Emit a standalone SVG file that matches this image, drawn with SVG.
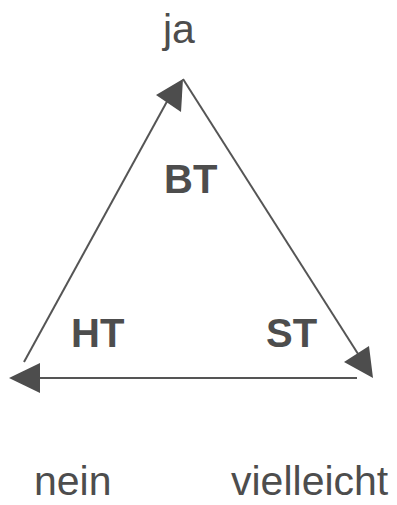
<svg xmlns="http://www.w3.org/2000/svg" width="397" height="505" viewBox="0 0 397 505">
<style>
.ln{stroke:#555;stroke-width:2;fill:none}
.ah{fill:#4d4d4d;stroke:none}
.t{font-family:"Liberation Sans",Arial,sans-serif;font-size:41px;fill:#4d4d4d}
.b{font-family:"Liberation Sans",Arial,sans-serif;font-size:40px;font-weight:bold;fill:#4d4d4d}
</style>
<rect width="397" height="505" fill="#fff"/>
<g id="connectors">
<line class="ln" x1="24" y1="362" x2="170" y2="96"/>
<polygon class="ah" points="183,79 156,95 181,112"/>
<line class="ln" x1="183" y1="79" x2="360" y2="357"/>
<polygon class="ah" points="373,378 344,362 369,346"/>
<line class="ln" x1="357" y1="378" x2="38" y2="378"/>
<polygon class="ah" points="9,378 40,363 40,393"/>
</g>
<g id="ja"><text class="t" x="163" y="43">ja</text></g>
<g id="nein"><text class="t" x="34" y="495">nein</text></g>
<g id="vielleicht"><text class="t" x="231" y="495">vielleicht</text></g>
<g id="BT"><text class="b" x="164" y="193">BT</text></g>
<g id="HT"><text class="b" x="71" y="347">HT</text></g>
<g id="ST"><text class="b" x="266" y="347">ST</text></g>
</svg>
